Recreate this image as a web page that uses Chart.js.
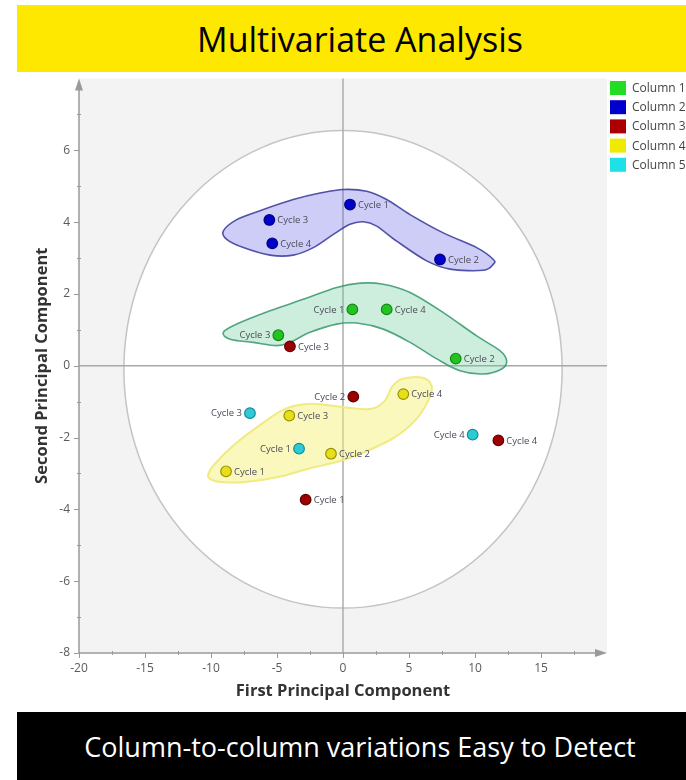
<!DOCTYPE html>
<html>
<head>
<meta charset="utf-8">
<title>Multivariate Analysis</title>
<script src="https://cdn.jsdelivr.net/npm/chart.js@4/dist/chart.umd.min.js"></script>
<style>
  html, body { margin: 0; padding: 0; background: #fff; overflow: hidden; }
  body { width: 686px; height: 780px; position: relative; font-family: "Open Sans", sans-serif; }
  .banner { position: absolute; left: 17px; width: 686px; display: flex; align-items: center; justify-content: center; }
  #top { top: 5px; height: 67px; background: #ffe800; color: #000; font-size: 34px; }
  #bottom { top: 712px; height: 68px; background: #000; color: #fff; font-size: 27px; }
  #wrap { position: absolute; left: 0; top: 72px; width: 686px; height: 640px; }
</style>
</head>
<body>
<div class="banner" id="top">Multivariate Analysis</div>
<div id="wrap"><canvas id="pca" width="686" height="640"></canvas></div>
<div class="banner" id="bottom">Column-to-column variations Easy to Detect</div>
<script>
// PCA scores: first / second principal component per column and cycle
const columnNames = ['Column 1', 'Column 2', 'Column 3', 'Column 4', 'Column 5'];

const col1Cycles = ['Cycle 1', 'Cycle 2', 'Cycle 3', 'Cycle 4'];
const col1PC1 = [0.71, 8.54, -4.90, 3.31];
const col1PC2 = [1.57, 0.20, 0.85, 1.57];

const col2Cycles = ['Cycle 1', 'Cycle 2', 'Cycle 3', 'Cycle 4'];
const col2PC1 = [0.53, 7.35, -5.58, -5.36];
const col2PC2 = [4.49, 2.96, 4.06, 3.41];

const col3Cycles = ['Cycle 1', 'Cycle 2', 'Cycle 3', 'Cycle 4'];
const col3PC1 = [-2.83, 0.78, -4.02, 11.77];
const col3PC2 = [-3.73, -0.86, 0.54, -2.08];

const col4Cycles = ['Cycle 1', 'Cycle 2', 'Cycle 3', 'Cycle 4'];
const col4PC1 = [-8.86, -0.91, -4.07, 4.57];
const col4PC2 = [-2.94, -2.45, -1.39, -0.79];

const col5Cycles = ['Cycle 1', 'Cycle 3', 'Cycle 4'];
const col5PC1 = [-3.33, -7.05, 9.82];
const col5PC2 = [-2.31, -1.32, -1.92];

// points whose cycle label sits to the left of the marker
const leftLabelled = ['Column 1|Cycle 1', 'Column 1|Cycle 3', 'Column 3|Cycle 2',
                      'Column 5|Cycle 1', 'Column 5|Cycle 3', 'Column 5|Cycle 4'];

// axis ranges
const xRange = [-20, 20];
const yRange = [-8, 8];

// grouping outlines (PC1, PC2) drawn round the clustered columns
const groupBlue = [[-9.07,3.75],[-8.05,4.07],[-6.29,4.32],[-3.77,4.63],[-1.74,4.81],[0.02,4.91],[1.80,4.86],[3.31,4.63],[5.08,4.21],[7.60,3.70],[10.13,3.29],[11.39,2.96],[11.39,2.83],[10.63,2.66],[8.11,2.69],[6.34,2.92],[4.07,3.47],[2.55,3.89],[1.54,4.01],[0.53,3.94],[-0.73,3.66],[-2.25,3.29],[-3.77,3.08],[-5.53,3.08],[-7.55,3.29],[-8.81,3.52]];
const groupGreen = [[-9.07,0.93],[-8.05,1.16],[-5.53,1.53],[-3.01,1.85],[-0.48,2.18],[1.29,2.30],[3.05,2.27],[5.08,2.04],[7.60,1.48],[10.13,0.83],[11.89,0.42],[12.40,0.14],[12.02,-0.09],[10.63,-0.23],[8.86,-0.14],[7.10,0.19],[5.08,0.65],[3.05,1.02],[1.04,1.19],[-0.48,1.16],[-2.50,0.93],[-4.02,0.65],[-5.02,0.56],[-6.80,0.65],[-8.56,0.74]];
const groupYellow = [[-10.20,-3.01],[-9.70,-2.73],[-8.18,-2.18],[-6.16,-1.62],[-4.39,-1.20],[-2.37,-1.06],[0.15,-1.16],[2.17,-1.20],[3.18,-0.97],[3.69,-0.60],[4.45,-0.37],[5.96,-0.33],[6.72,-0.56],[6.46,-0.97],[5.45,-1.53],[3.94,-1.99],[1.92,-2.36],[-0.10,-2.64],[-2.63,-2.87],[-4.90,-3.10],[-7.42,-3.24],[-9.19,-3.24],[-10.08,-3.15]];

// confidence ellipse: centre and semi-axes in score units
const ellipseCenter = [0, -0.1];
const ellipseRadii = [16.6, 6.65];

const series = [
  { cycles: col1Cycles, x: col1PC1, y: col1PC2, fill: '#22c322', edge: '#128a12', key: '#22dd22' },
  { cycles: col2Cycles, x: col2PC1, y: col2PC2, fill: '#0000cc', edge: '#00007a', key: '#0000cc' },
  { cycles: col3Cycles, x: col3PC1, y: col3PC2, fill: '#9c0000', edge: '#5e0000', key: '#aa0000' },
  { cycles: col4Cycles, x: col4PC1, y: col4PC2, fill: '#e8df1c', edge: '#9a9200', key: '#eeea00' },
  { cycles: col5Cycles, x: col5PC1, y: col5PC2, fill: '#2ccbd6', edge: '#148a92', key: '#1ee0e6' }
];

const datasets = series.map((s, i) => ({
  label: columnNames[i],
  data: s.x.map((v, j) => ({ x: v, y: s.y[j], cycle: s.cycles[j] })),
  backgroundColor: s.fill,
  borderColor: s.edge,
  borderWidth: 1.2,
  pointRadius: 5.3,
  pointHoverRadius: 5.3,
  legendColor: s.key
}));

const groups = [
  { pts: groupBlue, fill: 'rgba(100,100,230,0.32)', stroke: 'rgba(55,55,150,0.85)', width: 1.6 },
  { pts: groupGreen, fill: 'rgba(100,200,150,0.32)', stroke: 'rgba(55,150,110,0.85)', width: 1.6 },
  { pts: groupYellow, fill: 'rgba(246,240,110,0.45)', stroke: 'rgba(238,232,120,0.9)', width: 2 }
];

const axisGrey = '#9a9a9a';

function smoothClosed(ctx, pts) {
  const n = pts.length;
  ctx.beginPath();
  ctx.moveTo(pts[0][0], pts[0][1]);
  for (let i = 0; i < n; i++) {
    const p0 = pts[(i - 1 + n) % n], p1 = pts[i], p2 = pts[(i + 1) % n], p3 = pts[(i + 2) % n];
    ctx.bezierCurveTo(
      p1[0] + (p2[0] - p0[0]) / 6, p1[1] + (p2[1] - p0[1]) / 6,
      p2[0] - (p3[0] - p1[0]) / 6, p2[1] - (p3[1] - p1[1]) / 6,
      p2[0], p2[1]);
  }
  ctx.closePath();
}

const backdrop = {
  id: 'backdrop',
  beforeDatasetsDraw(chart) {
    const { ctx, chartArea: a, scales: { x, y } } = chart;
    ctx.save();
    // plot background
    ctx.fillStyle = '#f3f3f3';
    ctx.fillRect(a.left, a.top, a.right - a.left, a.bottom - a.top);
    // ellipse
    const cx = x.getPixelForValue(ellipseCenter[0]);
    const cy = y.getPixelForValue(ellipseCenter[1]);
    const rx = x.getPixelForValue(ellipseCenter[0] + ellipseRadii[0]) - cx;
    const ry = cy - y.getPixelForValue(ellipseCenter[1] + ellipseRadii[1]);
    ctx.beginPath();
    ctx.ellipse(cx, cy, rx, ry, 0, 0, Math.PI * 2);
    ctx.fillStyle = '#ffffff';
    ctx.fill();
    ctx.strokeStyle = '#c4c4c4';
    ctx.lineWidth = 1.5;
    ctx.stroke();
    // zero lines
    const x0 = x.getPixelForValue(0), y0 = y.getPixelForValue(0);
    ctx.strokeStyle = '#a8a8a8';
    ctx.lineWidth = 1.4;
    ctx.beginPath();
    ctx.moveTo(a.left, y0); ctx.lineTo(a.right, y0);
    ctx.moveTo(x0, a.top); ctx.lineTo(x0, a.bottom);
    ctx.stroke();
    // cluster outlines
    groups.forEach(g => {
      const px = g.pts.map(p => [x.getPixelForValue(p[0]), y.getPixelForValue(p[1])]);
      smoothClosed(ctx, px);
      ctx.fillStyle = g.fill;
      ctx.fill();
      ctx.strokeStyle = g.stroke;
      ctx.lineWidth = g.width;
      ctx.stroke();
    });
    // axes with arrow heads and tick marks
    ctx.strokeStyle = axisGrey;
    ctx.fillStyle = axisGrey;
    ctx.lineWidth = 1.5;
    ctx.beginPath();
    ctx.moveTo(a.left, a.bottom); ctx.lineTo(a.left, a.top + 6);
    ctx.moveTo(a.left, a.bottom); ctx.lineTo(a.right - 6, a.bottom);
    ctx.stroke();
    ctx.beginPath();
    ctx.moveTo(a.left, a.top); ctx.lineTo(a.left - 4, a.top + 12); ctx.lineTo(a.left + 4, a.top + 12); ctx.closePath();
    ctx.fill();
    ctx.beginPath();
    ctx.moveTo(a.right, a.bottom); ctx.lineTo(a.right - 12, a.bottom - 4); ctx.lineTo(a.right - 12, a.bottom + 4); ctx.closePath();
    ctx.fill();
    ctx.lineWidth = 1;
    ctx.beginPath();
    y.ticks.forEach(t => {
      if (t.value >= yRange[1]) return;
      const py = Math.round(y.getPixelForValue(t.value)) + 0.5;
      if (t.value % 2 === 0) { ctx.moveTo(a.left - 5, py); ctx.lineTo(a.left, py); }
      else { ctx.moveTo(a.left - 2, py); ctx.lineTo(a.left + 2, py); }
    });
    x.ticks.forEach(t => {
      if (t.value >= xRange[1]) return;
      const pxv = Math.round(x.getPixelForValue(t.value)) + 0.5;
      if (t.value % 5 === 0) { ctx.moveTo(pxv, a.bottom); ctx.lineTo(pxv, a.bottom + 5); }
      else { ctx.moveTo(pxv, a.bottom - 2); ctx.lineTo(pxv, a.bottom + 2); }
    });
    ctx.stroke();
    ctx.restore();
  }
};

const annotations = {
  id: 'annotations',
  afterDatasetsDraw(chart) {
    const { ctx } = chart;
    ctx.save();
    // cycle labels beside each marker
    ctx.font = '9.5px "Open Sans", sans-serif';
    ctx.fillStyle = '#4a4a58';
    ctx.textBaseline = 'middle';
    chart.data.datasets.forEach((ds, i) => {
      chart.getDatasetMeta(i).data.forEach((el, j) => {
        const text = ds.data[j].cycle;
        const left = leftLabelled.includes(ds.label + '|' + text);
        ctx.textAlign = left ? 'right' : 'left';
        ctx.fillText(text, el.x + (left ? -8 : 8), el.y + 0.5);
      });
    });
    // legend in the top-right corner
    ctx.font = '12px "Open Sans", sans-serif';
    ctx.textAlign = 'left';
    chart.data.datasets.forEach((ds, i) => {
      const top = 9 + i * 19.2;
      ctx.fillStyle = ds.legendColor;
      ctx.fillRect(610, top, 16, 14);
      ctx.fillStyle = '#444';
      ctx.fillText(ds.label, 632, top + 7.5);
    });
    ctx.restore();
  }
};

const tickFont = { family: 'Open Sans', size: 12 };
const titleFont = { family: 'Open Sans', size: 16.5, weight: 'bold' };

new Chart(document.getElementById('pca'), {
  type: 'scatter',
  data: { datasets },
  options: {
    responsive: false,
    animation: false,
    events: [],
    layout: { padding: { top: 5, right: 79, left: 0, bottom: 0 } },
    plugins: { legend: { display: false }, tooltip: { enabled: false } },
    scales: {
      x: {
        type: 'linear', min: xRange[0], max: xRange[1],
        grid: { display: false, drawTicks: false },
        border: { display: false },
        ticks: {
          stepSize: 2.5, autoSkip: false, maxRotation: 0, padding: 8,
          color: '#5a5a5a', font: tickFont,
          callback: v => (v % 5 === 0 && v < xRange[1]) ? String(v) : ''
        },
        title: {
          display: true, text: 'First Principal Component', color: '#333',
          font: titleFont, padding: { top: 0, bottom: 11 }
        },
        afterFit: s => { s.height = 59; s.paddingLeft = 0; s.paddingRight = 0; }
      },
      y: {
        type: 'linear', min: yRange[0], max: yRange[1],
        grid: { display: false, drawTicks: false },
        border: { display: false },
        ticks: {
          stepSize: 1, autoSkip: false, padding: 9,
          color: '#5a5a5a', font: tickFont,
          callback: v => (v % 2 === 0 && v < yRange[1]) ? String(v) : ''
        },
        title: {
          display: true, text: 'Second Principal Component', color: '#333',
          font: titleFont, padding: { top: 32, bottom: 0 }
        },
        afterFit: s => { s.width = 79; s.paddingTop = 0; s.paddingBottom = 0; }
      }
    }
  },
  plugins: [backdrop, annotations]
});
</script>
</body>
</html>
